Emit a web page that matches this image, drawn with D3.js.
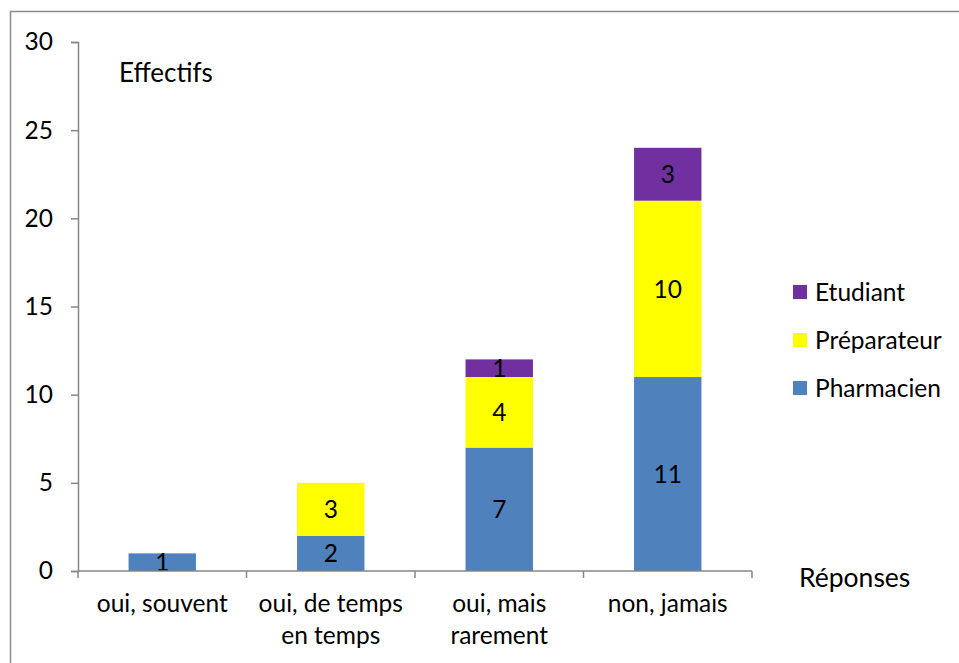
<!DOCTYPE html>
<html>
<head>
<meta charset="utf-8">
<script src="https://cdn.jsdelivr.net/npm/d3@7"></script>
<style>
  body { margin: 0; background: #fff; }
  text { font-family: Lato, "Open Sans", sans-serif; fill: #000; }
</style>
</head>
<body>
<div id="chart"></div>
<script>
// Data.
var categories = [["oui, souvent"], ["oui, de temps", "en temps"], ["oui, mais", "rarement"], ["non, jamais"]];
var seriesNames = ["Pharmacien", "Préparateur", "Etudiant"];
var pharmacien = [1, 2, 7, 11];
var preparateur = [0, 3, 4, 10];
var etudiant = [0, 0, 1, 3];
var yTicks = [0, 5, 10, 15, 20, 25, 30];

var colors = {"Pharmacien": "#4f81bd", "Préparateur": "#ffff00", "Etudiant": "#7030a0"};

var fontSize = "24.5px";

var W = 959, H = 663;
var margin = {left: 78, right: 207, top: 42, bottom: 92};
var width = W - margin.left - margin.right,
    height = H - margin.top - margin.bottom;

var svg = d3.select("#chart").append("svg")
    .attr("width", W)
    .attr("height", H);

// Outer frame (cut off at the right and bottom like the reference).
svg.append("path")
    .attr("d", "M10.5," + (H + 2) + "V11.5H" + (W + 2))
    .attr("fill", "none")
    .attr("stroke", "#8c8c8c")
    .attr("stroke-width", 1.5);

var g = svg.append("g")
    .attr("transform", "translate(" + margin.left + "," + margin.top + ")");

// Build the stacked table from the arrays.
var table = categories.map(function(c, i) {
    return {key: i, "Pharmacien": pharmacien[i], "Préparateur": preparateur[i], "Etudiant": etudiant[i]};
});
var stacked = d3.stack().keys(seriesNames)(table);

var x = d3.scaleBand()
    .domain(d3.range(categories.length))
    .range([0, width])
    .paddingInner(0.6)
    .paddingOuter(0.3);

var y = d3.scaleLinear()
    .domain([0, 30])
    .range([height, 0]);

// Bars
var layers = g.selectAll(".layer")
    .data(stacked)
    .enter().append("g")
        .attr("class", "layer")
        .attr("fill", function(d) { return colors[d.key]; });

layers.selectAll("rect")
    .data(function(d) { return d.filter(function(p) { return p[1] - p[0] > 0; }); })
    .enter().append("rect")
        .attr("x", function(d) { return x(d.data.key); })
        .attr("width", x.bandwidth())
        .attr("y", function(d) { return y(d[1]); })
        .attr("height", function(d) { return y(d[0]) - y(d[1]); });

// Value labels in the middle of each segment
layers.selectAll("text")
    .data(function(d) { return d.filter(function(p) { return p[1] - p[0] > 0; }); })
    .enter().append("text")
        .attr("x", function(d) { return x(d.data.key) + x.bandwidth() / 2; })
        .attr("y", function(d) { return (y(d[0]) + y(d[1])) / 2; })
        .attr("dy", "0.36em")
        .attr("text-anchor", "middle")
        .attr("font-size", fontSize)
        .text(function(d) { return d[1] - d[0]; });

// Y axis
var yAxis = g.append("g")
    .call(d3.axisLeft(y).tickValues(yTicks).tickSize(7).tickPadding(18));
yAxis.selectAll("text").attr("font-size", fontSize).style("font-family", "Lato, 'Open Sans', sans-serif");
yAxis.selectAll("line, path").attr("stroke", "#868686").attr("stroke-width", 1.5);

// X axis: line with ticks at category boundaries
var xAxisG = g.append("g").attr("transform", "translate(0," + height + ")");
xAxisG.append("line")
    .attr("x1", 0).attr("x2", width)
    .attr("stroke", "#868686").attr("stroke-width", 1.5);
var step = width / categories.length;
xAxisG.selectAll(".xtick")
    .data(d3.range(categories.length + 1))
    .enter().append("line")
        .attr("x1", function(d) { return d * step; })
        .attr("x2", function(d) { return d * step; })
        .attr("y1", 0).attr("y2", 7)
        .attr("stroke", "#868686").attr("stroke-width", 1.5);

xAxisG.selectAll(".xlabel")
    .data(categories)
    .enter().append("text")
        .attr("text-anchor", "middle")
        .attr("font-size", fontSize)
        .attr("transform", function(d, i) { return "translate(" + (x(i) + x.bandwidth() / 2) + ",41)"; })
        .selectAll("tspan")
        .data(function(d) { return d; })
        .enter().append("tspan")
            .attr("x", 0)
            .attr("dy", function(d, i) { return i === 0 ? 0 : 32; })
            .text(function(d) { return d; });

// Axis titles
svg.append("text")
    .attr("x", 119).attr("y", 82)
    .attr("font-size", "26px")
    .text("Effectifs");

svg.append("text")
    .attr("x", 799).attr("y", 587)
    .attr("font-size", "26.5px")
    .text("Réponses");

// Legend
var legend = svg.append("g").attr("transform", "translate(793,292)");
seriesNames.slice().reverse().forEach(function(name, i) {
    var row = legend.append("g").attr("transform", "translate(0," + (i * 48) + ")");
    row.append("rect")
        .attr("y", -7).attr("width", 14).attr("height", 14)
        .attr("fill", colors[name]);
    row.append("text")
        .attr("x", 22).attr("dy", "0.36em")
        .attr("font-size", fontSize)
        .text(name);
});
</script>
</body>
</html>
